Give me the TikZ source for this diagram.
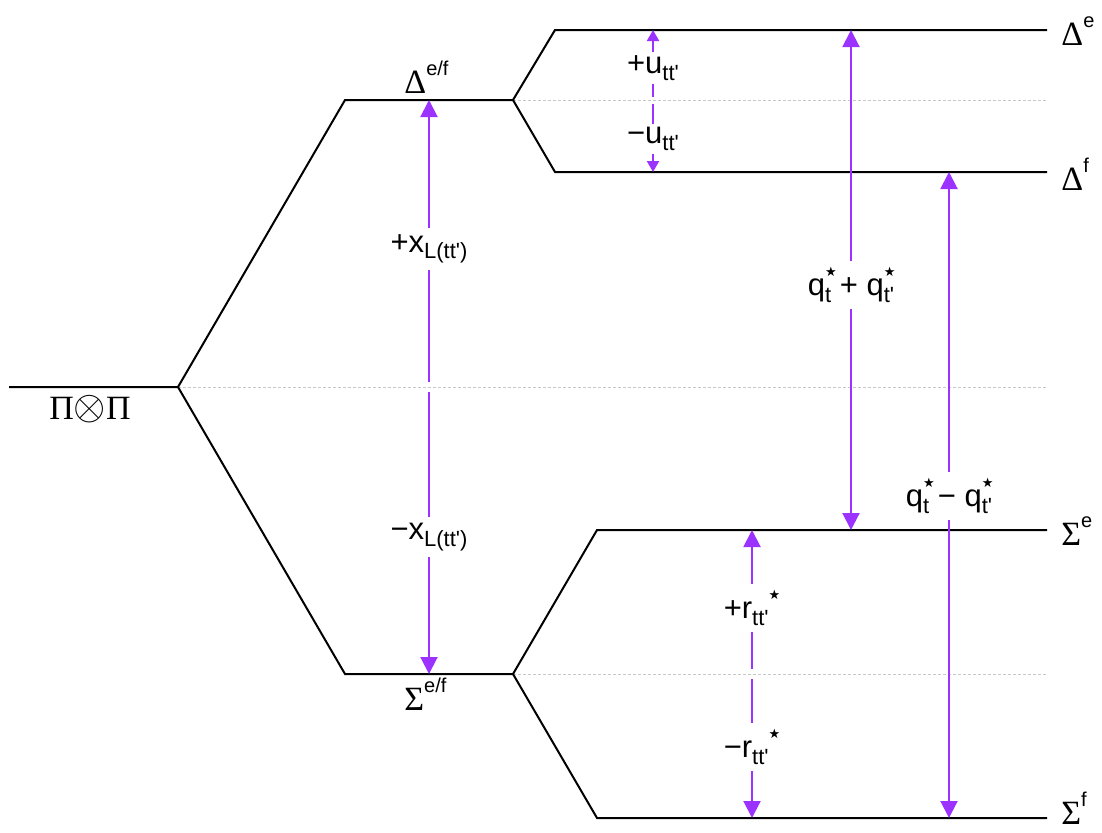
\documentclass[tikz,border=0pt]{standalone}
\usepackage{fontspec}
\setmainfont{Liberation Sans}[Ligatures=TeXOff]
\newfontfamily\gk{Liberation Serif}
\newfontfamily\sy{DejaVu Sans}
\usetikzlibrary{arrows.meta}
\definecolor{trcol}{RGB}{155,50,255}
\definecolor{guidecol}{RGB}{200,200,200}
\newcommand{\gsup}[1]{\raisebox{9pt}{\fontsize{10}{10}\selectfont #1}}
\newcommand{\lsub}[1]{\raisebox{-3.2pt}{\fontsize{11}{11}\selectfont #1}}
\newcommand{\lstar}{\raisebox{9.5pt}{\sy\fontsize{6.5}{6.5}\selectfont ★}}
\newcommand{\qs}[1]{q\rlap{\lstar}\lsub{#1}}
\newcommand{\mn}{−}
\begin{document}
\begin{tikzpicture}[x=0.5pt,y=-0.5pt,
  level/.style={line width=1pt, line join=miter},
  guide/.style={draw=guidecol, line width=0.5pt, dash pattern=on 1.5pt off 1pt},
  trline/.style={draw=trcol, line width=1pt},
  trans/.style={trline, -{Triangle[length=8.5pt,width=8.5pt]}},
  transs/.style={trline, -{Triangle[length=5.5pt,width=6pt]}},
  lab/.style={fill=white, inner xsep=1pt, inner ysep=3pt, font=\fontsize{15.5}{17}\selectfont},
  labs/.style={lab, inner ysep=1.5pt},
  grk/.style={inner sep=0pt, font=\fontsize{17}{20}\selectfont},
]
\useasboundingbox (0,0) rectangle (1102,832);

% level end points
\coordinate (P0) at (9,387);   \coordinate (P1) at (178,387);
\coordinate (DL) at (345,100); \coordinate (DR) at (513,100);
\coordinate (SL) at (345,674); \coordinate (SR) at (513,674);
\coordinate (DeL) at (555,30);  \coordinate (DeR) at (1047,30);
\coordinate (DfL) at (555,172); \coordinate (DfR) at (1047,172);
\coordinate (SeL) at (597,530); \coordinate (SeR) at (1047,530);
\coordinate (SfL) at (597,818); \coordinate (SfR) at (1047,818);
\coordinate (G1) at (1047,100); \coordinate (G2) at (1047,387); \coordinate (G3) at (1047,674);

% guides
\draw[guide] (DR) -- (G1);
\draw[guide] (P1) -- (G2);
\draw[guide] (SR) -- (G3);

% levels
\draw[level] (P0) -- (P1) -- (DL) -- (DR) -- (DeL) -- (DeR);
\draw[level] (DR) -- (DfL) -- (DfR);
\draw[level] (P1) -- (SL) -- (SR) -- (SeL) -- (SeR);
\draw[level] (SR) -- (SfL) -- (SfR);

% level labels
\node[grk, anchor=base] (lpp) at (90,419) {{\gk Π}{\fontsize{20}{20}\selectfont$\otimes$}{\gk Π}};
\node[grk, anchor=base west] (ldef) at (404,93) {{\gk Δ}\gsup{e/f}};
\node[grk, anchor=base west] (lsef) at (404,710) {{\gk Σ}\gsup{e/f}};
\node[grk, anchor=base west] (lde) at (1061,45) {{\gk Δ}\gsup{e}};
\node[grk, anchor=base west] (ldf) at (1061,190) {{\gk Δ}\gsup{f}};
\node[grk, anchor=base west] (lse) at (1061,545) {{\gk Σ}\gsup{e}};
\node[grk, anchor=base west] (lsf) at (1061,824) {{\gk Σ}\gsup{f}};

% transition labels
\node[lab] (xp) at (429,249) {+x\lsub{L(tt')}};
\node[lab] (xm) at (429,537) {\mn x\lsub{L(tt')}};
\node[labs] (up) at (653,68) {+u\lsub{tt'}};
\node[labs] (um) at (653,139) {\mn u\lsub{tt'}};
\node[lab] (qp) at (851,285) {\qs{t} + \qs{t'}\hspace{3pt}};
\node[lab] (qm) at (949,496) {\qs{t} \mn\ \qs{t'}\hspace{3pt}};
\node[lab] (rp) at (752,608) {+r\lsub{tt'}\lstar};
\node[lab] (rm) at (752,747) {\mn r\lsub{tt'}\lstar};

% arrow end points
\coordinate (xT) at (429,100); \coordinate (xB) at (429,674);
\coordinate (xc1) at (429,382); \coordinate (xc2) at (429,392);
\coordinate (uT) at (653,30); \coordinate (uB) at (653,172);
\coordinate (uc1) at (653,97); \coordinate (uc2) at (653,104);
\coordinate (qT) at (851,30); \coordinate (qB) at (851,530);
\coordinate (qmT) at (949,172); \coordinate (qmB) at (949,818);
\coordinate (rT) at (752,530); \coordinate (rB) at (752,818);
\coordinate (rc1) at (752,669); \coordinate (rc2) at (752,679);

% transitions
\draw[trans] (xp) -- (xT);
\draw[trline] (xp) -- (xc1);
\draw[trline] (xc2) -- (xm);
\draw[trans] (xm) -- (xB);

\draw[transs] (up) -- (uT);
\draw[trline] (up) -- (uc1);
\draw[trline] (uc2) -- (um);
\draw[transs] (um) -- (uB);

\draw[trans] (qp) -- (qT);
\draw[trans] (qp) -- (qB);
\draw[trans] (qm) -- (qmT);
\draw[trans] (qm) -- (qmB);

\draw[trans] (rp) -- (rT);
\draw[trline] (rp) -- (rc1);
\draw[trline] (rc2) -- (rm);
\draw[trans] (rm) -- (rB);
\end{tikzpicture}
\end{document}
